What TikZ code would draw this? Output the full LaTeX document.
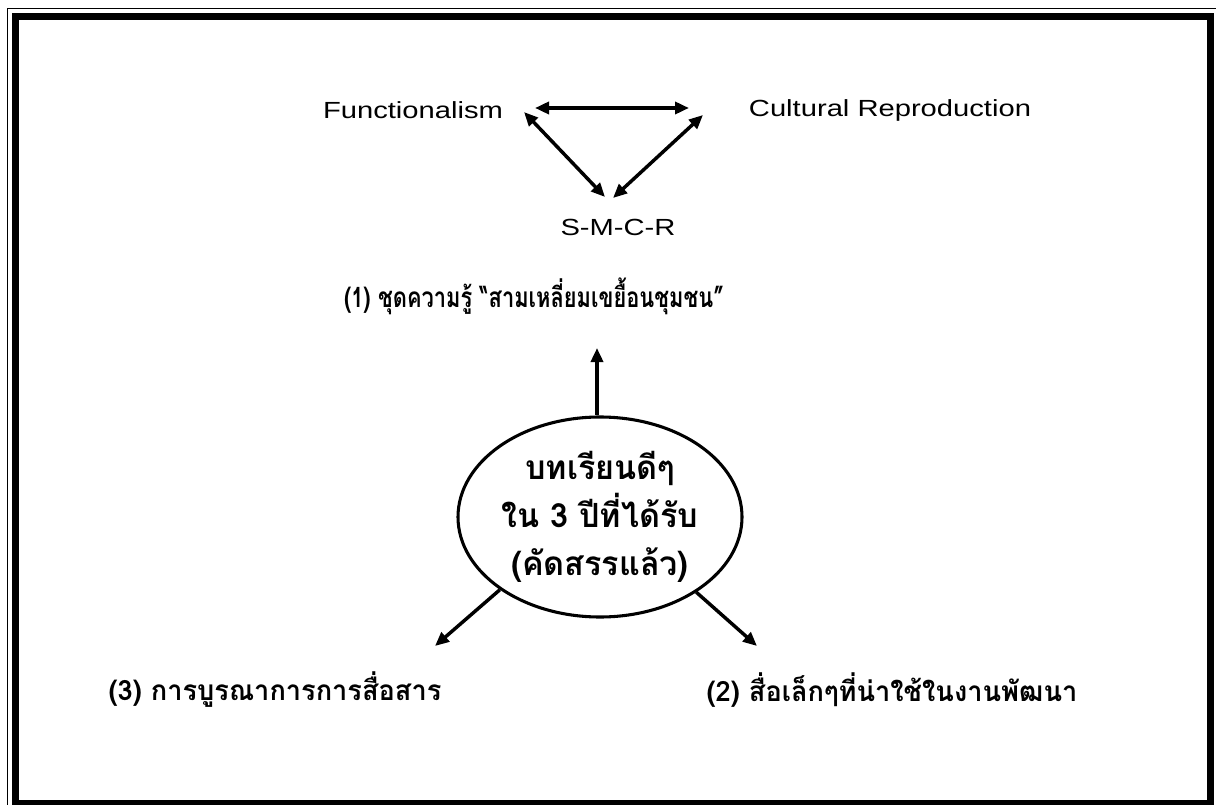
\documentclass[tikz,border=0pt]{standalone}
\usepackage{fontspec}
\usetikzlibrary{arrows.meta,shapes.geometric}
\newfontfamily\thaihead[Script=Thai,FakeStretch=0.78]{Loma}
\newfontfamily\thaibody[Script=Thai,FakeStretch=0.97]{Loma}
\newfontfamily\labelfont[FakeStretch=1.25]{Liberation Sans}
\tikzset{
  conn/.style={line width=2.6pt},
  tip/.style={-{Triangle[length=10.5pt,width=9pt]}},
  bitip/.style={{Triangle[length=10.5pt,width=9pt]}-{Triangle[length=10.5pt,width=9pt]}},
  theory/.style={font=\labelfont\fontsize{17.5pt}{20pt}\selectfont, inner sep=0pt},
  outcome/.style={font=\thaibody\bfseries\fontsize{21pt}{25pt}\selectfont, inner sep=0pt},
  headline/.style={font=\thaihead\bfseries\fontsize{21pt}{25pt}\selectfont, inner sep=0pt},
  hub/.style={ellipse, draw, line width=2.3pt, inner sep=0pt,
              minimum width=213pt, minimum height=150pt, align=center,
              font=\thaibody\bfseries\fontsize{25pt}{36pt}\selectfont}
}
\begin{document}
\begin{tikzpicture}[x=0.75pt,y=-0.75pt]
  \useasboundingbox (0,0) rectangle (1216,805);
  \clip (0,0) rectangle (1216,805);
  % double page frame: thin outer line, thick inner line
  \draw[line width=1.1pt] (7.5,8.5) rectangle (1226,816);
  \draw[line width=5.25pt] (15.5,16.5) rectangle (1210.5,803.5);

  % theory triangle
  \node[theory] (func) at (413,110) {Functionalism};
  \node[theory] (cult) at (890,110) {Cultural Reproduction};
  \node[theory] (smcr) at (618,227) {S-M-C-R};
  \coordinate (fR) at (535,108);
  \coordinate (cL) at (689,108);
  \coordinate (fD) at (524,112);
  \coordinate (cD) at (703,115);
  \coordinate (sL) at (605,197);
  \coordinate (sR) at (613,198);
  \draw[conn,bitip] (fR) -- (cL);
  \draw[conn,bitip] (fD) -- (sL);
  \draw[conn,bitip] (cD) -- (sR);

  % central lesson set and its three outcomes
  \node[hub] (hub) at (600,517) {บทเรียนดีๆ\\ใน 3 ปีที่ได้รับ\\(คัดสรรแล้ว)};
  \node[headline] (o1) at (534,296) {(1) ชุดความรู้ “สามเหลี่ยมเขยื้อนชุมชน”};
  \node[outcome] (o3) at (275,690) {(3) การบูรณาการการสื่อสาร};
  \node[outcome] (o2) at (892,690) {(2) สื่อเล็กๆที่น่าใช้ในงานพัฒนา};
  \coordinate (t1) at (597,348);
  \coordinate (t3) at (435,646);
  \coordinate (t2) at (757,646);
  \draw[conn,tip] (hub.north -| t1) -- (t1);
  \draw[conn,tip] (hub.216) -- (t3);
  \draw[conn,tip] (hub.-38) -- (t2);
\end{tikzpicture}
\end{document}
